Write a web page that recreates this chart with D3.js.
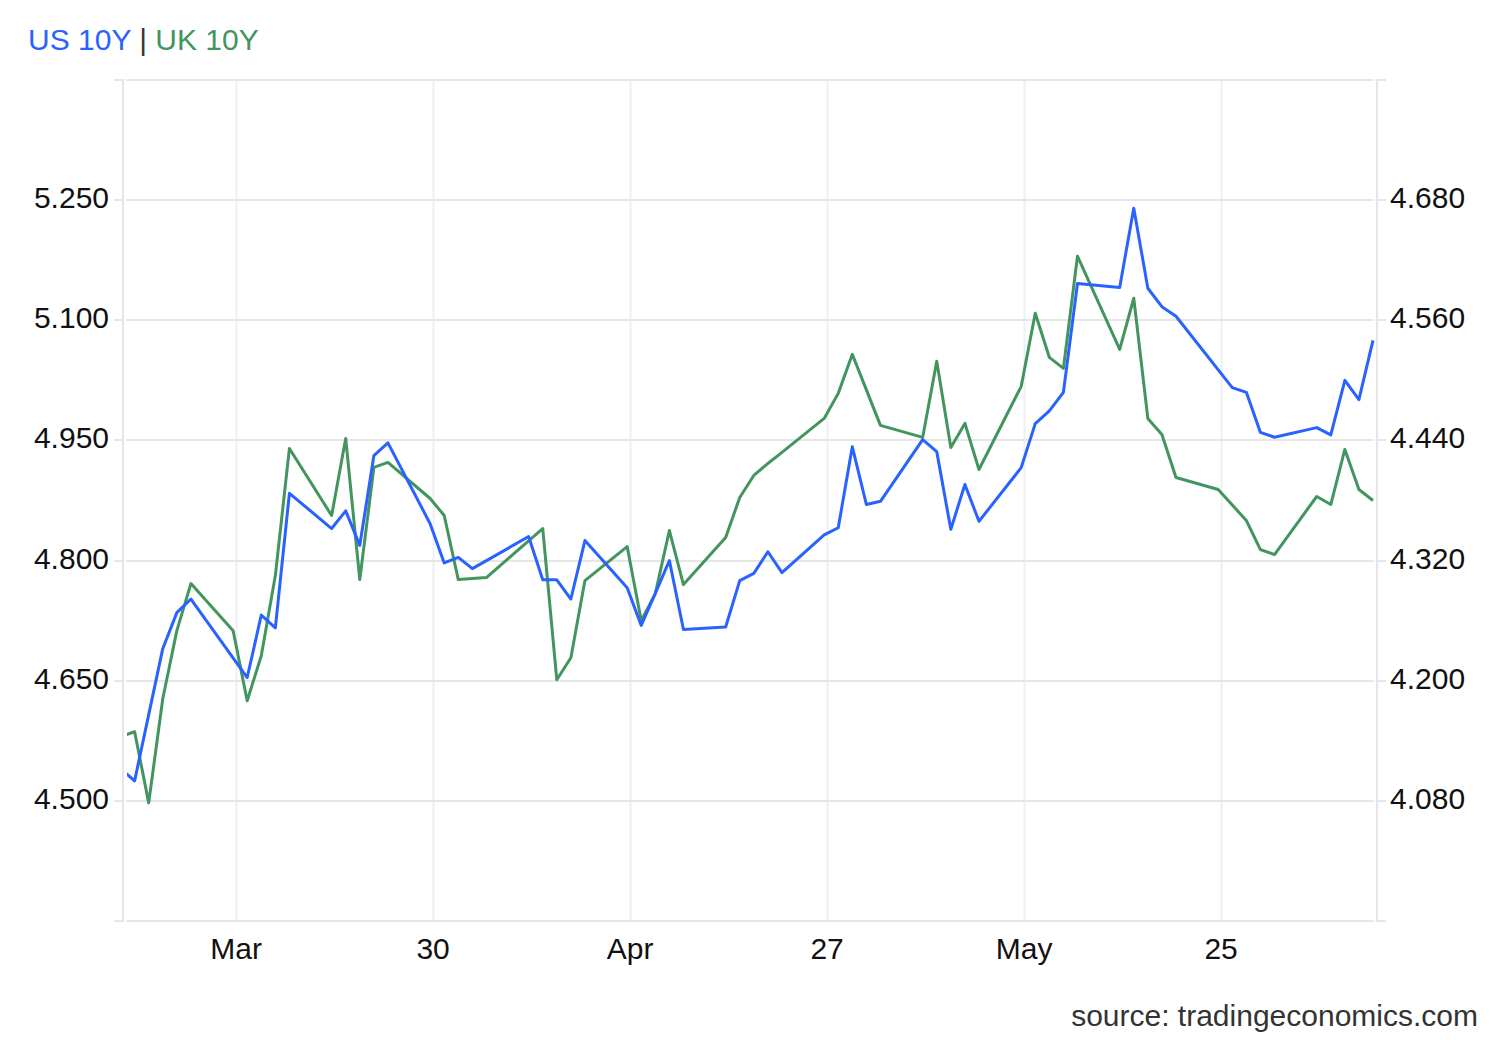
<!DOCTYPE html>
<html>
<head>
<meta charset="utf-8">
<script src="https://cdnjs.cloudflare.com/ajax/libs/d3/7.8.5/d3.min.js"></script>
<style>
    html, body { margin: 0; padding: 0; background: #fff; }
    svg { display: block; font-family: "Liberation Sans", Arial, sans-serif; }
</style>
</head>
<body>
<div id="chart"></div>
<script>
// US 10Y (left axis), trading days
var usDates = [
    "2021-03-05", "2021-03-08", "2021-03-10", "2021-03-11", "2021-03-12",
    "2021-03-16", "2021-03-17", "2021-03-18", "2021-03-19", "2021-03-22",
    "2021-03-23", "2021-03-24", "2021-03-25", "2021-03-26", "2021-03-29",
    "2021-03-30", "2021-03-31", "2021-04-01", "2021-04-05", "2021-04-06",
    "2021-04-07", "2021-04-08", "2021-04-09", "2021-04-12", "2021-04-13",
    "2021-04-14", "2021-04-15", "2021-04-16", "2021-04-19", "2021-04-20",
    "2021-04-21", "2021-04-22", "2021-04-23", "2021-04-26", "2021-04-27",
    "2021-04-28", "2021-04-29", "2021-04-30", "2021-05-03", "2021-05-04",
    "2021-05-05", "2021-05-06", "2021-05-07", "2021-05-10", "2021-05-11",
    "2021-05-12", "2021-05-13", "2021-05-14", "2021-05-17", "2021-05-18",
    "2021-05-19", "2021-05-20", "2021-05-21", "2021-05-25", "2021-05-26",
    "2021-05-27", "2021-05-28", "2021-05-31", "2021-06-01", "2021-06-02",
    "2021-06-03", "2021-06-04"
];
var usYields = [
    4.571, 4.525, 4.690, 4.735, 4.752,
    4.654, 4.732, 4.716, 4.884, 4.840,
    4.862, 4.819, 4.931, 4.947, 4.846,
    4.797, 4.804, 4.790, 4.830, 4.776,
    4.776, 4.752, 4.825, 4.766, 4.719,
    4.759, 4.800, 4.714, 4.717, 4.775,
    4.784, 4.811, 4.785, 4.832, 4.841,
    4.942, 4.870, 4.874, 4.951, 4.936,
    4.839, 4.895, 4.849, 4.916, 4.971,
    4.987, 5.010, 5.146, 5.141, 5.240,
    5.140, 5.117, 5.105, 5.016, 5.010,
    4.960, 4.954, 4.966, 4.957, 5.025,
    5.001, 5.075
];

// UK 10Y (right axis)
var ukDates = [
    "2021-03-05", "2021-03-08", "2021-03-09", "2021-03-10", "2021-03-11",
    "2021-03-12", "2021-03-15", "2021-03-16", "2021-03-17", "2021-03-18",
    "2021-03-19", "2021-03-22", "2021-03-23", "2021-03-24", "2021-03-25",
    "2021-03-26", "2021-03-29", "2021-03-30", "2021-03-31", "2021-04-01",
    "2021-04-02", "2021-04-06", "2021-04-07", "2021-04-08", "2021-04-09",
    "2021-04-12", "2021-04-13", "2021-04-14", "2021-04-15", "2021-04-16",
    "2021-04-19", "2021-04-20", "2021-04-21", "2021-04-22", "2021-04-23",
    "2021-04-26", "2021-04-27", "2021-04-28", "2021-04-30", "2021-05-03",
    "2021-05-04", "2021-05-05", "2021-05-06", "2021-05-07", "2021-05-10",
    "2021-05-11", "2021-05-12", "2021-05-13", "2021-05-14", "2021-05-17",
    "2021-05-18", "2021-05-19", "2021-05-20", "2021-05-21", "2021-05-24",
    "2021-05-26", "2021-05-27", "2021-05-28", "2021-05-31", "2021-06-01",
    "2021-06-02", "2021-06-03", "2021-06-04"
];
var ukYields = [
    4.135, 4.149, 4.078, 4.182, 4.250,
    4.297, 4.250, 4.180, 4.225, 4.305,
    4.432, 4.365, 4.442, 4.301, 4.413,
    4.418, 4.382, 4.365, 4.301, 4.302,
    4.303, 4.352, 4.201, 4.223, 4.300,
    4.334, 4.260, 4.287, 4.350, 4.296,
    4.343, 4.383, 4.405, 4.417, 4.428,
    4.462, 4.487, 4.526, 4.455, 4.443,
    4.519, 4.433, 4.457, 4.411, 4.494,
    4.567, 4.523, 4.512, 4.624, 4.531,
    4.582, 4.462, 4.446, 4.403, 4.391,
    4.360, 4.331, 4.326, 4.384, 4.376,
    4.431, 4.391, 4.380
];

var tickDates = ["2021-03-16", "2021-03-30", "2021-04-13", "2021-04-27", "2021-05-11", "2021-05-25"];
var tickLabels = ["Mar", "30", "Apr", "27", "May", "25"];
var leftTicks = [4.50, 4.65, 4.80, 4.95, 5.10, 5.25];
var rightTicks = [4.08, 4.20, 4.32, 4.44, 4.56, 4.68];

(function () {
    'use strict';
    var svg, x, yLeft, yRight, lineUS, lineUK, usData, ukData, title,
        width = 1500,
        height = 1040,
        plot = {left: 127, right: 1373, top: 80, bottom: 921},
        closeHour = 19,   // quotes are stamped at the close, not at midnight
        blue = "#2962ff",
        green = "#43955f",
        gridColor = "#e6e6e6",
        vGridColor = "#edf0f4",
        textColor = "#111",
        fontSize = 30,
        parse = d3.utcParse("%Y-%m-%d");

    function atClose(s) {
        return d3.utcHour.offset(parse(s), closeHour);
    }

    function zip(dates, values) {
        return dates.map(function (d, i) {
            return {date: atClose(d), value: values[i]};
        });
    }

    usData = zip(usDates, usYields);
    ukData = zip(ukDates, ukYields);

    x = d3.scaleUtc()
        .domain([d3.utcHour.offset(parse("2021-03-08"), 6), d3.utcHour.offset(parse("2021-06-04"), 19)])
        .range([plot.left, plot.right]);

    yLeft = d3.scaleLinear().domain([4.35, 5.40]).range([plot.bottom, plot.top]);
    yRight = d3.scaleLinear().domain([3.96, 4.80]).range([plot.bottom, plot.top]);

    svg = d3.select("#chart").append("svg")
        .attr("width", width)
        .attr("height", height);

    svg.append("rect")
        .attr("width", width)
        .attr("height", height)
        .attr("fill", "#fff");

    svg.append("defs").append("clipPath")
        .attr("id", "plotClip")
        .append("rect")
        .attr("x", plot.left)
        .attr("y", plot.top - 10)
        .attr("width", plot.right - plot.left + 2)
        .attr("height", plot.bottom - plot.top + 20);

    // vertical grid at the date ticks
    svg.append("g").selectAll("line")
        .data(tickDates)
        .enter()
        .append("line")
        .attr("x1", function (d) { return Math.round(x(parse(d))) + 0.5; })
        .attr("x2", function (d) { return Math.round(x(parse(d))) + 0.5; })
        .attr("y1", plot.top)
        .attr("y2", plot.bottom)
        .attr("stroke", vGridColor)
        .attr("stroke-width", 2);

    // horizontal grid, including top and bottom borders
    svg.append("g").selectAll("line")
        .data([yLeft.domain()[0]].concat(leftTicks, [yLeft.domain()[1]]))
        .enter()
        .append("line")
        .attr("x1", 114)
        .attr("x2", 1386)
        .attr("y1", function (d) { return Math.round(yLeft(d)); })
        .attr("y2", function (d) { return Math.round(yLeft(d)); })
        .attr("stroke", gridColor)
        .attr("stroke-width", 2);

    // small gaps just inside the axis lines
    [plot.left - 1.5, plot.right + 1.5].forEach(function (gx) {
        svg.append("line")
            .attr("x1", gx).attr("x2", gx)
            .attr("y1", plot.top - 2).attr("y2", plot.bottom + 2)
            .attr("stroke", "#fff")
            .attr("stroke-width", 2);
    });

    // axis lines
    [plot.left - 4, plot.right + 4].forEach(function (ax) {
        svg.append("line")
            .attr("x1", ax).attr("x2", ax)
            .attr("y1", plot.top - 1).attr("y2", plot.bottom + 1)
            .attr("stroke", gridColor)
            .attr("stroke-width", 2);
    });

    // left labels
    svg.append("g").selectAll("text")
        .data(leftTicks)
        .enter()
        .append("text")
        .attr("x", 109)
        .attr("y", function (d) { return yLeft(d) + 8; })
        .attr("text-anchor", "end")
        .style("font-size", fontSize + "px")
        .style("fill", textColor)
        .text(d3.format(".3f"));

    // right labels
    svg.append("g").selectAll("text")
        .data(rightTicks)
        .enter()
        .append("text")
        .attr("x", 1390)
        .attr("y", function (d) { return yRight(d) + 8; })
        .attr("text-anchor", "start")
        .style("font-size", fontSize + "px")
        .style("fill", textColor)
        .text(d3.format(".3f"));

    // date labels
    svg.append("g").selectAll("text")
        .data(tickDates)
        .enter()
        .append("text")
        .attr("x", function (d) { return x(parse(d)); })
        .attr("y", 959)
        .attr("text-anchor", "middle")
        .style("font-size", fontSize + "px")
        .style("fill", textColor)
        .text(function (d, i) { return tickLabels[i]; });

    lineUS = d3.line()
        .x(function (d) { return x(d.date); })
        .y(function (d) { return yLeft(d.value); });

    lineUK = d3.line()
        .x(function (d) { return x(d.date); })
        .y(function (d) { return yRight(d.value); });

    svg.append("g")
        .attr("clip-path", "url(#plotClip)")
        .call(function (g) {
            g.append("path")
                .datum(ukData)
                .attr("d", lineUK)
                .attr("fill", "none")
                .attr("stroke", green)
                .attr("stroke-width", 3)
                .attr("stroke-linejoin", "round");
            g.append("path")
                .datum(usData)
                .attr("d", lineUS)
                .attr("fill", "none")
                .attr("stroke", blue)
                .attr("stroke-width", 3)
                .attr("stroke-linejoin", "round");
        });

    // legend title
    title = svg.append("text")
        .attr("x", 28)
        .attr("y", 50)
        .style("font-size", fontSize + "px");
    title.append("tspan").style("fill", blue).text("US 10Y");
    title.append("tspan").style("fill", "#333").text(" | ");
    title.append("tspan").style("fill", green).text("UK 10Y");

    svg.append("text")
        .attr("x", 1478)
        .attr("y", 1026)
        .attr("text-anchor", "end")
        .style("font-size", fontSize + "px")
        .style("fill", "#333")
        .text("source: tradingeconomics.com");
}());
</script>
</body>
</html>
